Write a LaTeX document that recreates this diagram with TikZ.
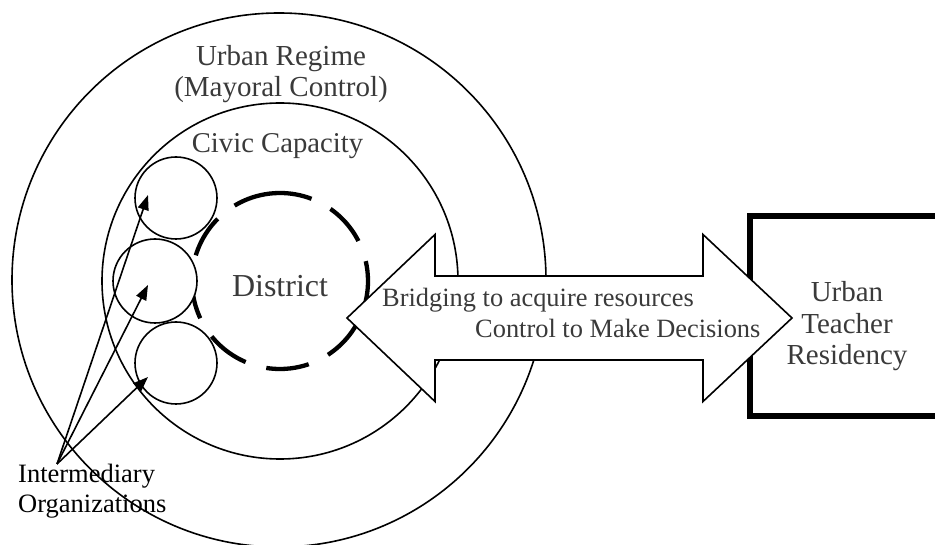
\documentclass[tikz,border=0pt]{standalone}
\usepackage{fontspec}
\setmainfont{Liberation Serif}
\usetikzlibrary{arrows.meta,calc}
\definecolor{ink}{HTML}{3A3A3A}
\begin{document}
\begin{tikzpicture}[x=1pt,y=1pt,
  thinline/.style={line width=1.6pt},
  ring/.style={circle, draw, thinline, inner sep=0pt, outer sep=0pt},
  orgring/.style={ring, fill=white},
  districtline/.style={line width=4.3pt, dash pattern=on 43pt off 21.5pt},
  pointer/.style={thinline, -{Triangle[length=15pt,width=11pt]}},
  lbl/.style={text=ink, inner sep=0pt, align=center},
  bigarrow/.style={thinline, fill=white, line join=miter},
  utrbox/.style={draw, line width=5.5pt, inner sep=0pt, minimum width=300pt, minimum height=200pt}
]
\useasboundingbox (0,0) rectangle (935,544);
\clip (0,0) rectangle (935,544);

% nested spheres of governance
\node[ring, minimum size=534pt] (regime) at (279,264) {};
\node[ring, minimum size=356pt] (civic) at (280,263) {};

% the district, drawn as a heavy dashed ring
\coordinate (district) at (280,263);
\draw[districtline] ($(district)+(97:88)$) arc[start angle=97, delta angle=-360, radius=88];

% intermediary organizations
\node[orgring, minimum size=82pt] (org1) at (176,346) {};
\node[orgring, minimum size=84pt] (org2) at (155,263) {};
\node[orgring, minimum size=82pt] (org3) at (176,181) {};

\coordinate (io) at (57,80);
\draw[pointer] (io) -- ($(org1.center)+(-28,3)$);
\draw[pointer] (io) -- ($(org2.center)+(-7,-4)$);
\draw[pointer] (io) -- ($(org3.center)+(-28,-14)$);

% residency program box (runs off the right edge)
\node[utrbox, anchor=west] (utr) at (747,228) {};

% two-way relationship arrow
\coordinate (arrL) at (347,226);
\coordinate (arrR) at (792,226);
\draw[bigarrow] (arrL) -- ($(arrL)+(88,83.5)$) -- ($(arrL)+(88,42)$)
  -- ($(arrR)+(-89,42)$) -- ($(arrR)+(-89,83.5)$) -- (arrR)
  -- ($(arrR)+(-89,-83.5)$) -- ($(arrR)+(-89,-42)$)
  -- ($(arrL)+(88,-42)$) -- ($(arrL)+(88,-83.5)$) -- cycle;

% labels (multi-line nodes are anchored on their last baseline)
\node[lbl, anchor=base, font=\fontsize{29}{31}\selectfont] (regimelbl) at (281,447) {Urban Regime\\(Mayoral Control)};
\node[lbl, anchor=base, font=\fontsize{28.7}{31}\selectfont] (civiclbl) at (277.5,391) {Civic Capacity};
\node[lbl, anchor=base, font=\fontsize{32}{34}\selectfont] (districtlbl) at (280,247) {District};
\node[lbl, anchor=base west, font=\fontsize{26.4}{30}\selectfont] (bridging) at (382,237) {Bridging to acquire resources};
\node[lbl, anchor=base west, font=\fontsize{26.4}{30}\selectfont] (control) at (475,206) {Control to Make Decisions};
\node[lbl, anchor=base, font=\fontsize{29}{31.5}\selectfont] (utrlbl) at (847,179) {Urban\\Teacher\\Residency};
\node[lbl, text=black, align=left, anchor=base west, font=\fontsize{26.5}{30}\selectfont] (iolbl) at (18,31) {Intermediary\\Organizations};
\end{tikzpicture}
\end{document}
